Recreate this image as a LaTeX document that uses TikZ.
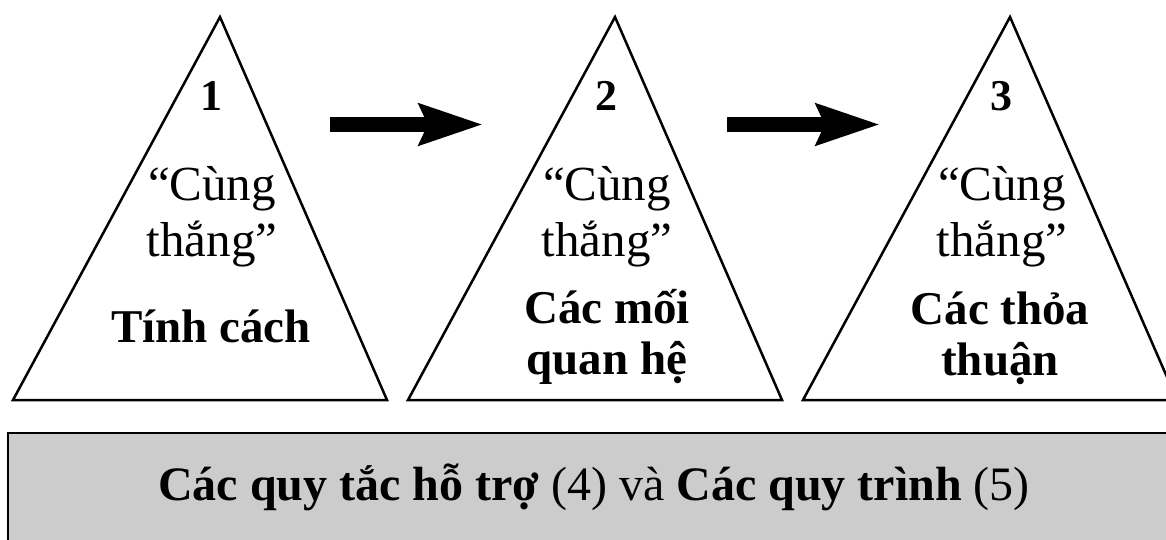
\documentclass[tikz,border=0pt]{standalone}
\usepackage{fontspec}
\setmainfont{Liberation Serif}
\usetikzlibrary{arrows.meta}

\tikzset{
  tri/.style={draw, line width=2.5pt, line join=miter},
  bigarrow/.style={line width=15pt, -{Stealth[length=63pt,width=40pt,inset=8pt]}},
  numtext/.style={font=\fontsize{44}{48}\selectfont\bfseries, anchor=base, inner sep=0pt},
  wintext/.style={font=\fontsize{49}{52}\selectfont, anchor=base, inner sep=0pt},
  nametext/.style={font=\fontsize{47}{51}\selectfont\bfseries, anchor=base, inner sep=0pt, align=center},
  bandtext/.style={font=\fontsize{48}{52}\selectfont, anchor=base, inner sep=0pt},
}

\begin{document}
\begin{tikzpicture}[x=1pt,y=-1pt]
  \useasboundingbox (0,0) rectangle (1166,539);

  % bottom band
  \draw[line width=2.5pt, fill=black!20] (8,433) rectangle (1180,560);
  \node[bandtext] (rules) at (594,500)
    {\textbf{Các quy tắc hỗ trợ} (4) và \textbf{Các quy trình} (5)};

  % the three triangles
  \foreach \i/\dx in {1/0, 2/395, 3/790} {
    \begin{scope}[xshift=\dx]
      \draw[tri] (220,17) -- (387,400) -- (13,400) -- cycle;
      \node[numtext] (num\i) at (211,110) {\i};
      \node[wintext] (cung\i) at (212,200) {“Cùng};
      \node[wintext] (thang\i) at (212,256) {thắng”};
    \end{scope}
  }

  % base anchor = baseline of the last line
  \node[nametext] (name1) at (211,342) {Tính cách};
  \node[nametext] (name2) at (607,374) {Các mối\\quan hệ};
  \node[nametext] (name3) at (1000,375) {Các thỏa\\thuận};

  % arrows between stages
  \coordinate (a1s) at (330,124.5);
  \coordinate (a1e) at (483,124.5);
  \coordinate (a2s) at (727,124.5);
  \coordinate (a2e) at (880,124.5);
  \draw[bigarrow] (a1s) -- (a1e);
  \draw[bigarrow] (a2s) -- (a2e);
\end{tikzpicture}
\end{document}
